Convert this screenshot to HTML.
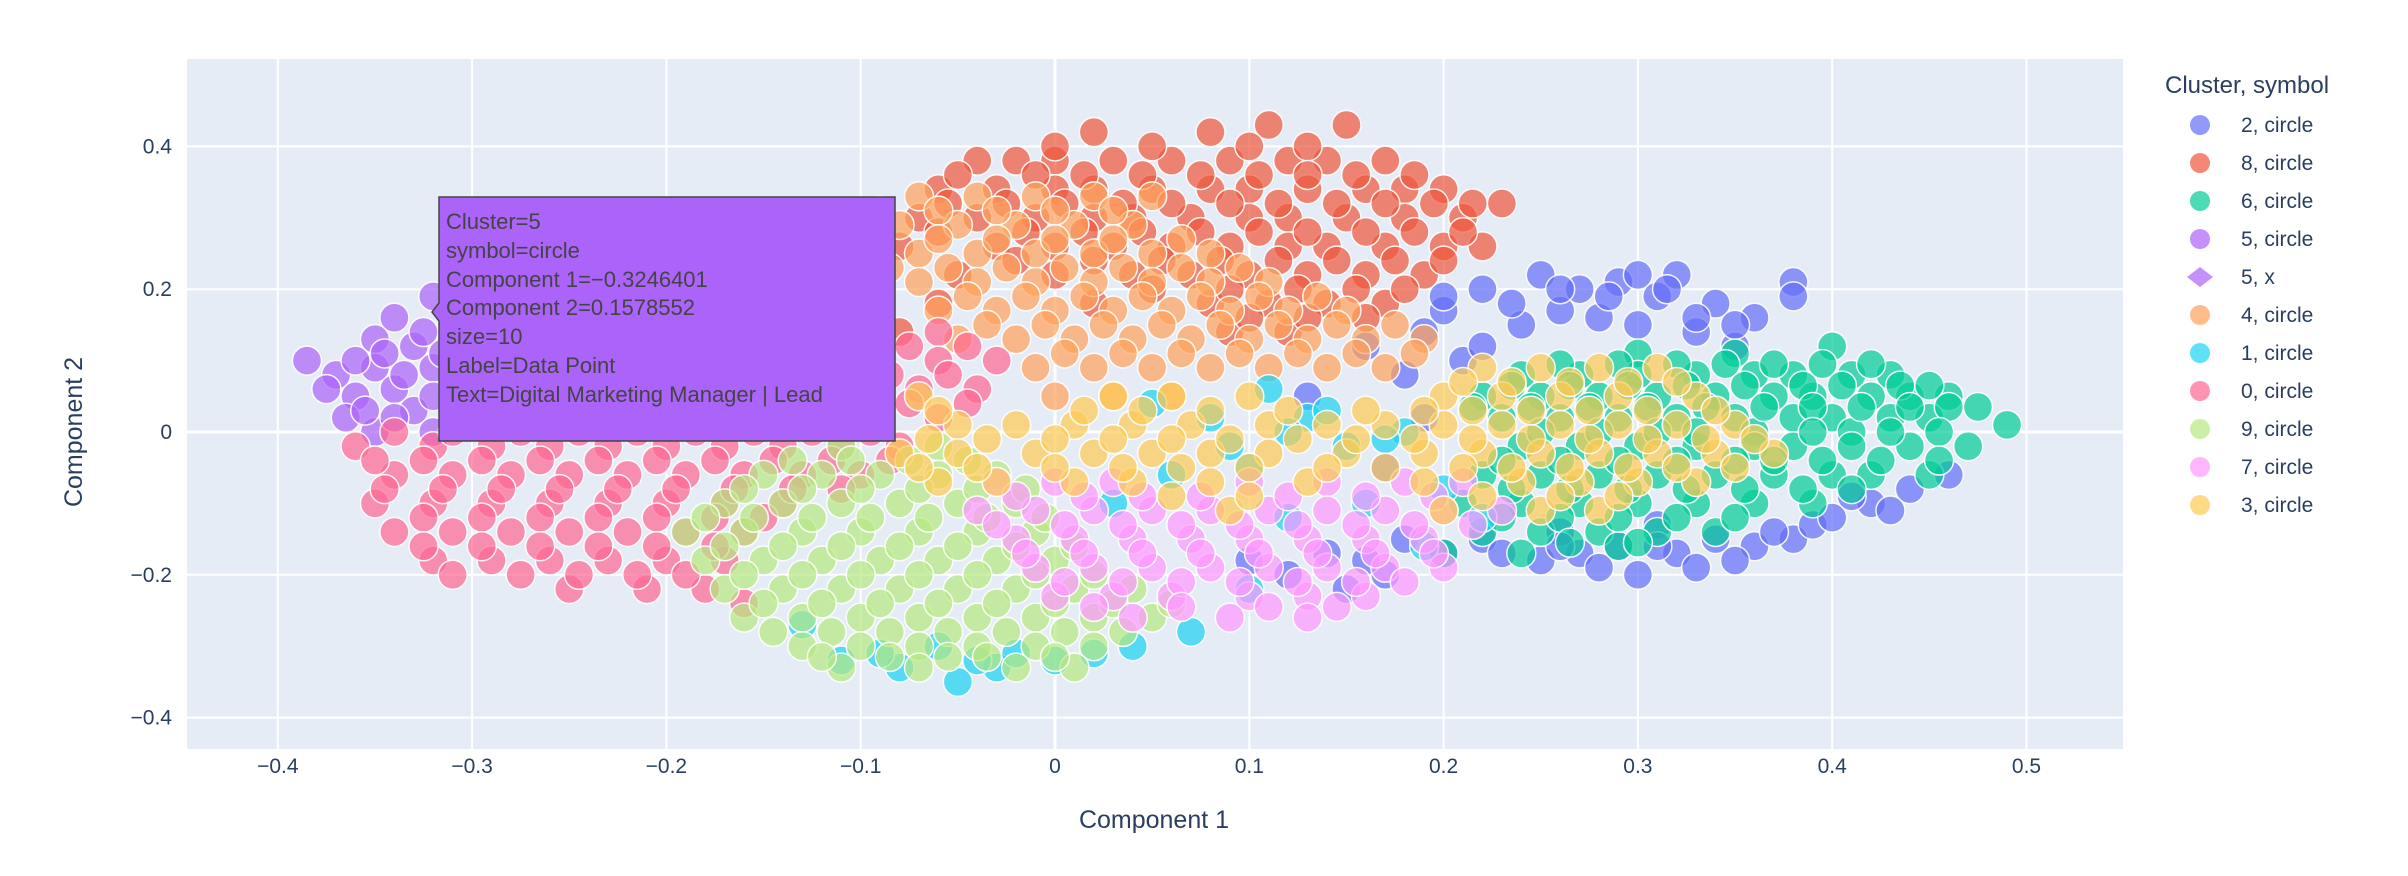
<!DOCTYPE html>
<html><head><meta charset="utf-8"><style>
body{margin:0;background:#fff;}
svg{display:block;font-family:"Liberation Sans",Arial,sans-serif;}
</style></head><body>
<svg id="chart" width="2408" height="876">
<rect x="187" y="59" width="1936" height="690" fill="#e5ecf6"/>
<g id="grid"></g>
<g id="marks"></g>
<g id="axes"></g>
<text x="1154" y="828" font-size="25" fill="#2a3f5f" text-anchor="middle">Component 1</text>
<text x="0" y="0" font-size="25" fill="#2a3f5f" text-anchor="middle" transform="translate(82,432) rotate(-90)">Component 2</text>
<g id="legend">
<text x="2165" y="93" font-size="24" fill="#2a3f5f">Cluster, symbol</text>
</g>
<g>
<path d="M439,197 H895 V441 H439 V321 L432,312 L439,303 Z" fill="#ab63fa" stroke="#444" stroke-width="1.5"/>
<g font-size="22" fill="#444">
<text x="446" y="229">Cluster=5</text>
<text x="446" y="258">symbol=circle</text>
<text x="446" y="287">Component 1=−0.3246401</text>
<text x="446" y="315">Component 2=0.1578552</text>
<text x="446" y="344">size=10</text>
<text x="446" y="373">Label=Data Point</text>
<text x="446" y="402">Text=Digital Marketing Manager | Lead</text>
</g>
</g>
</svg>
<script>
const xTicks = [-0.4,-0.3,-0.2,-0.1,0,0.1,0.2,0.3,0.4,0.5];
const xTickLabels = ["−0.4","−0.3","−0.2","−0.1","0","0.1","0.2","0.3","0.4","0.5"];
const yTicks = [-0.4,-0.2,0,0.2,0.4];
const yTickLabels = ["−0.4","−0.2","0","0.2","0.4"];
const legendLabels = ["2, circle","8, circle","6, circle","5, circle","5, x","4, circle","1, circle","0, circle","9, circle","7, circle","3, circle"];
const legendColors = ["#636efa","#EF553B","#00cc96","#ab63fa","#ab63fa","#FFA15A","#19d3f3","#FF6692","#B6E880","#FF97FF","#FECB52"];

const c2 = [[0.19,0.14],[0.2,0.17],[0.22,0.2],[0.25,0.22],[0.27,0.2],[0.29,0.21],[0.3,0.22],[0.32,0.22],[0.31,0.19],[0.34,0.18],[0.36,0.16],[0.38,0.21],[0.38,0.19],[0.26,0.17],[0.24,0.15],[0.28,0.16],[0.33,0.14],[0.3,0.15],[0.21,0.1],[0.18,0.08],[0.22,0.12],[0.35,0.12],[0.2,-0.17],[0.22,-0.15],[0.25,-0.18],[0.27,-0.17],[0.29,-0.16],[0.3,-0.2],[0.32,-0.17],[0.34,-0.15],[0.36,-0.16],[0.38,-0.15],[0.39,-0.13],[0.4,-0.12],[0.42,-0.1],[0.44,-0.08],[0.46,-0.06],[0.26,-0.14],[0.31,-0.13],[0.12,-0.2],[0.15,-0.22],[0.14,-0.17],[0.17,-0.2],[0.1,-0.18],[0.13,0.05],[0.16,0.12],[0.17,-0.05],[0.19,0.02],
[0.2,0.19],[0.235,0.18],[0.26,0.2],[0.285,0.19],[0.315,0.2],[0.33,0.16],[0.35,0.15],[0.23,-0.17],[0.26,-0.16],[0.28,-0.19],[0.31,-0.16],[0.33,-0.19],[0.35,-0.18],[0.37,-0.14],[0.41,-0.09],[0.43,-0.11],[0.16,-0.18],[0.18,-0.15]];
const c8 = [[0.02,0.42],[0.08,0.42],[0.11,0.43],[0.15,0.43],[-0.04,0.38],[-0.02,0.38],[0,0.38],[0.03,0.38],[0.06,0.38],[0.09,0.38],[0.12,0.38],[0.14,0.38],[0.17,0.38],[-0.06,0.34],[-0.03,0.34],[0,0.34],[0.02,0.34],[0.05,0.34],[0.08,0.34],[0.1,0.34],[0.13,0.34],[0.16,0.34],[0.18,0.34],[0.2,0.34],[-0.07,0.3],[-0.04,0.3],[-0.01,0.3],[0.02,0.3],[0.04,0.3],[0.07,0.3],[0.1,0.3],[0.12,0.3],[0.15,0.3],[0.18,0.3],[0.21,0.3],[0.23,0.32],[-0.08,0.26],[-0.03,0.26],[0,0.26],[0.03,0.26],[0.06,0.26],[0.09,0.26],[0.12,0.26],[0.14,0.26],[0.17,0.26],[0.2,0.26],[0.22,0.26],[-0.05,0.22],[0,0.22],[0.04,0.22],[0.07,0.22],[0.1,0.22],[0.13,0.22],[0.16,0.22],[0.19,0.22],[-0.1,0.18],[-0.06,0.18],[0.02,0.18],[0.08,0.18],[0.11,0.18],[0.14,0.18],[0.17,0.18],[-0.12,0.14],[-0.08,0.14],[0.09,0.14],[0.12,0.14],[-0.1,0.1],[-0.13,0.08],[-0.09,0.05],[-0.12,0.14],
[0,0.4],[0.05,0.4],[0.1,0.4],[0.13,0.4],[-0.05,0.36],[-0.01,0.36],[0.015,0.36],[0.045,0.36],[0.075,0.36],[0.105,0.36],[0.13,0.36],[0.155,0.36],[0.185,0.36],[-0.055,0.32],[-0.025,0.32],[0.005,0.32],[0.035,0.32],[0.06,0.32],[0.09,0.32],[0.115,0.32],[0.145,0.32],[0.17,0.32],[0.195,0.32],[0.215,0.32],[-0.06,0.28],[-0.015,0.28],[0.015,0.28],[0.045,0.28],[0.075,0.28],[0.105,0.28],[0.13,0.28],[0.16,0.28],[0.185,0.28],[0.21,0.28],[-0.02,0.24],[0.02,0.24],[0.055,0.24],[0.085,0.24],[0.115,0.24],[0.145,0.24],[0.175,0.24],[0.2,0.24],[0.05,0.2],[0.09,0.2],[0.125,0.2],[0.155,0.2],[0.18,0.2],[0.1,0.16],[0.13,0.16],[0.16,0.16]];
const c6 = [[0.3,0.11],[0.35,0.11],[0.4,0.12],[0.24,0.08],[0.27,0.08],[0.3,0.08],[0.33,0.08],[0.36,0.08],[0.38,0.08],[0.41,0.08],[0.43,0.08],[0.22,0.05],[0.25,0.05],[0.28,0.05],[0.31,0.05],[0.34,0.05],[0.37,0.05],[0.39,0.05],[0.42,0.05],[0.44,0.05],[0.46,0.05],[0.23,0.02],[0.26,0.02],[0.29,0.02],[0.32,0.02],[0.35,0.02],[0.38,0.02],[0.4,0.02],[0.43,0.02],[0.45,0.02],[0.36,0],[0.41,0],[0.49,0.01],[0.24,-0.02],[0.27,-0.02],[0.3,-0.02],[0.33,-0.02],[0.36,-0.02],[0.38,-0.02],[0.41,-0.02],[0.44,-0.02],[0.47,-0.02],[0.22,-0.06],[0.25,-0.06],[0.28,-0.06],[0.31,-0.06],[0.34,-0.06],[0.37,-0.06],[0.4,-0.06],[0.42,-0.06],[0.45,-0.06],[0.21,-0.1],[0.24,-0.1],[0.27,-0.1],[0.3,-0.1],[0.33,-0.1],[0.36,-0.1],[0.39,-0.1],[0.22,-0.14],[0.25,-0.14],[0.28,-0.14],[0.31,-0.14],[0.34,-0.14],[0.2,-0.17],[0.24,-0.17],[0.29,-0.16],
[0.26,0.095],[0.29,0.095],[0.32,0.095],[0.345,0.095],[0.37,0.095],[0.395,0.095],[0.42,0.095],[0.235,0.065],[0.265,0.065],[0.295,0.065],[0.325,0.065],[0.355,0.065],[0.385,0.065],[0.405,0.065],[0.435,0.065],[0.45,0.065],[0.215,0.035],[0.245,0.035],[0.275,0.035],[0.305,0.035],[0.335,0.035],[0.365,0.035],[0.39,0.035],[0.415,0.035],[0.44,0.035],[0.46,0.035],[0.475,0.035],[0.25,0],[0.28,0],[0.31,0],[0.33,0],[0.39,0],[0.43,0],[0.455,0],[0.23,-0.04],[0.26,-0.04],[0.29,-0.04],[0.32,-0.04],[0.35,-0.04],[0.37,-0.04],[0.395,-0.04],[0.425,-0.04],[0.455,-0.04],[0.235,-0.08],[0.265,-0.08],[0.295,-0.08],[0.325,-0.08],[0.355,-0.08],[0.385,-0.08],[0.41,-0.08],[0.23,-0.12],[0.26,-0.12],[0.29,-0.12],[0.32,-0.12],[0.35,-0.12],[0.265,-0.155],[0.3,-0.155]];
const c5 = [[-0.385,0.1],[-0.37,0.08],[-0.36,0.05],[-0.365,0.02],[-0.35,0.13],[-0.35,0.09],[-0.34,0.06],[-0.34,0.16],[-0.33,0.12],[-0.33,0.03],[-0.32,0.19],[-0.32,0.09],[-0.31,0.15],[-0.31,0.06],[-0.3,0.12],[-0.3,0.02],[-0.29,0.18],[-0.29,0.09],[-0.28,0.14],[-0.28,0.05],[-0.27,0.11],[-0.26,0.07],[-0.26,0.16],[-0.25,0.12],[-0.35,0],[-0.32,0],[-0.36,0.1],[-0.3,0.16],
[-0.375,0.06],[-0.355,0.03],[-0.345,0.11],[-0.325,0.14],[-0.315,0.11],[-0.305,0.08],[-0.295,0.14],[-0.285,0.11],[-0.275,0.08],[-0.335,0.08],[-0.32,0.05],[-0.31,0.17],[-0.27,0.15],[-0.34,0.02]];
const c4 = [[-0.07,0.33],[-0.04,0.33],[-0.01,0.33],[0.02,0.33],[0.05,0.33],[-0.11,0.29],[-0.08,0.29],[-0.05,0.29],[-0.02,0.29],[0.01,0.29],[0.04,0.29],[-0.13,0.25],[-0.1,0.25],[-0.07,0.25],[-0.04,0.25],[-0.01,0.25],[0.02,0.25],[0.05,0.25],[0.08,0.25],[-0.16,0.21],[-0.13,0.21],[-0.1,0.21],[-0.07,0.21],[-0.04,0.21],[-0.01,0.21],[0.02,0.21],[0.05,0.21],[0.08,0.21],[0.11,0.21],[-0.18,0.17],[-0.15,0.17],[-0.06,0.17],[-0.03,0.17],[0,0.17],[0.03,0.17],[0.06,0.17],[0.09,0.17],[0.12,0.17],[0.15,0.17],[-0.05,0.13],[-0.02,0.13],[0.01,0.13],[0.04,0.13],[0.07,0.13],[0.1,0.13],[0.13,0.13],[0.16,0.13],[0.19,0.13],[-0.01,0.09],[0.02,0.09],[0.05,0.09],[0.08,0.09],[0.11,0.09],[0.14,0.09],[0.17,0.09],[0,0.05],[0.03,0.05],[0.06,0.05],
[-0.09,0.31],[-0.06,0.31],[-0.03,0.31],[0,0.31],[0.03,0.31],[-0.12,0.27],[-0.09,0.27],[-0.06,0.27],[-0.03,0.27],[0,0.27],[0.03,0.27],[0.065,0.27],[-0.145,0.23],[-0.115,0.23],[-0.085,0.23],[-0.055,0.23],[-0.025,0.23],[0.005,0.23],[0.035,0.23],[0.065,0.23],[0.095,0.23],[-0.17,0.19],[-0.14,0.19],[-0.11,0.19],[-0.045,0.19],[-0.015,0.19],[0.015,0.19],[0.045,0.19],[0.075,0.19],[0.105,0.19],[0.135,0.19],[-0.035,0.15],[-0.005,0.15],[0.025,0.15],[0.055,0.15],[0.085,0.15],[0.115,0.15],[0.145,0.15],[0.175,0.15],[0.005,0.11],[0.035,0.11],[0.065,0.11],[0.095,0.11],[0.125,0.11],[0.155,0.11],[0.185,0.11]];
const c1 = [[-0.11,-0.32],[-0.08,-0.33],[-0.05,-0.35],[-0.03,-0.33],[-0.06,-0.3],[0,-0.32],[0.04,-0.3],[0.07,-0.28],[0.1,-0.22],[0.12,-0.12],[0.1,-0.05],[0.08,0.02],[0.13,0.02],[0.15,-0.02],[0.18,0],[0.2,-0.08],[0.16,-0.1],[0.06,-0.06],[0.03,-0.1],[0.05,0.04],[0.11,0.06],[0.22,-0.12],[-0.13,-0.27],[0.19,-0.16],
[-0.09,-0.31],[-0.04,-0.32],[-0.02,-0.31],[0.02,-0.31],[0.12,0],[0.14,0.03],[0.17,-0.01],[0.09,-0.02]];
const c0 = [[-0.12,0.14],[-0.09,0.14],[-0.06,0.14],[-0.15,0.1],[-0.12,0.1],[-0.09,0.1],[-0.06,0.1],[-0.03,0.1],[-0.27,0.06],[-0.22,0.06],[-0.19,0.06],[-0.16,0.06],[-0.13,0.06],[-0.1,0.06],[-0.07,0.06],[-0.04,0.06],[-0.3,0.02],[-0.27,0.02],[-0.24,0.02],[-0.21,0.02],[-0.18,0.02],[-0.15,0.02],[-0.12,0.02],[-0.09,0.02],[-0.06,0.02],[-0.36,-0.02],[-0.32,-0.02],[-0.29,-0.02],[-0.26,-0.02],[-0.23,-0.02],[-0.2,-0.02],[-0.17,-0.02],[-0.14,-0.02],[-0.11,-0.02],[-0.08,-0.02],[-0.34,-0.06],[-0.31,-0.06],[-0.28,-0.06],[-0.25,-0.06],[-0.22,-0.06],[-0.19,-0.06],[-0.16,-0.06],[-0.13,-0.06],[-0.1,-0.06],[-0.35,-0.1],[-0.32,-0.1],[-0.29,-0.1],[-0.26,-0.1],[-0.23,-0.1],[-0.2,-0.1],[-0.17,-0.1],[-0.14,-0.1],[-0.34,-0.14],[-0.31,-0.14],[-0.28,-0.14],[-0.25,-0.14],[-0.22,-0.14],[-0.19,-0.14],[-0.16,-0.14],[-0.32,-0.18],[-0.29,-0.18],[-0.26,-0.18],[-0.23,-0.18],[-0.2,-0.18],[-0.17,-0.18],[-0.25,-0.22],[-0.21,-0.22],[-0.18,-0.22],[-0.16,-0.24],
[-0.135,0.12],[-0.105,0.12],[-0.075,0.12],[-0.045,0.12],[-0.25,0.08],[-0.205,0.08],[-0.175,0.08],[-0.145,0.08],[-0.115,0.08],[-0.085,0.08],[-0.055,0.08],[-0.285,0.04],[-0.255,0.04],[-0.225,0.04],[-0.195,0.04],[-0.165,0.04],[-0.135,0.04],[-0.105,0.04],[-0.075,0.04],[-0.045,0.04],[-0.34,0],[-0.31,0],[-0.275,0],[-0.245,0],[-0.215,0],[-0.185,0],[-0.155,0],[-0.125,0],[-0.095,0],[-0.35,-0.04],[-0.325,-0.04],[-0.295,-0.04],[-0.265,-0.04],[-0.235,-0.04],[-0.205,-0.04],[-0.175,-0.04],[-0.145,-0.04],[-0.115,-0.04],[-0.085,-0.04],[-0.345,-0.08],[-0.315,-0.08],[-0.285,-0.08],[-0.255,-0.08],[-0.225,-0.08],[-0.195,-0.08],[-0.165,-0.08],[-0.135,-0.08],[-0.11,-0.08],[-0.325,-0.12],[-0.295,-0.12],[-0.265,-0.12],[-0.235,-0.12],[-0.205,-0.12],[-0.175,-0.12],[-0.15,-0.12],[-0.325,-0.16],[-0.295,-0.16],[-0.265,-0.16],[-0.235,-0.16],[-0.205,-0.16],[-0.175,-0.16],[-0.31,-0.2],[-0.275,-0.2],[-0.245,-0.2],[-0.215,-0.2],[-0.19,-0.2]];
const c9 = [[-0.11,-0.02],[-0.06,-0.02],[-0.15,-0.06],[-0.12,-0.06],[-0.09,-0.06],[-0.06,-0.06],[-0.03,-0.06],[-0.17,-0.1],[-0.14,-0.1],[-0.11,-0.1],[-0.08,-0.1],[-0.05,-0.1],[-0.02,-0.1],[-0.19,-0.14],[-0.16,-0.14],[-0.13,-0.14],[-0.1,-0.14],[-0.07,-0.14],[-0.04,-0.14],[-0.01,-0.14],[-0.18,-0.18],[-0.15,-0.18],[-0.12,-0.18],[-0.09,-0.18],[-0.06,-0.18],[-0.03,-0.18],[0,-0.18],[-0.17,-0.22],[-0.14,-0.22],[-0.11,-0.22],[-0.08,-0.22],[-0.05,-0.22],[-0.02,-0.22],[0.01,-0.22],[0.04,-0.22],[-0.16,-0.26],[-0.13,-0.26],[-0.1,-0.26],[-0.07,-0.26],[-0.04,-0.26],[-0.01,-0.26],[0.02,-0.26],[0.05,-0.26],[-0.13,-0.3],[-0.1,-0.3],[-0.07,-0.3],[-0.04,-0.3],[-0.01,-0.3],[0.02,-0.3],[-0.11,-0.33],[-0.07,-0.33],[-0.02,-0.33],[0.01,-0.33],
[-0.135,-0.04],[-0.105,-0.04],[-0.075,-0.04],[-0.045,-0.04],[-0.16,-0.08],[-0.13,-0.08],[-0.1,-0.08],[-0.07,-0.08],[-0.04,-0.08],[-0.015,-0.08],[-0.18,-0.12],[-0.155,-0.12],[-0.125,-0.12],[-0.095,-0.12],[-0.065,-0.12],[-0.035,-0.12],[-0.005,-0.12],[-0.17,-0.16],[-0.14,-0.16],[-0.11,-0.16],[-0.08,-0.16],[-0.05,-0.16],[-0.02,-0.16],[0.01,-0.16],[-0.16,-0.2],[-0.13,-0.2],[-0.1,-0.2],[-0.07,-0.2],[-0.04,-0.2],[-0.01,-0.2],[0.02,-0.2],[-0.15,-0.24],[-0.12,-0.24],[-0.09,-0.24],[-0.06,-0.24],[-0.03,-0.24],[0,-0.24],[0.03,-0.24],[0.06,-0.24],[-0.145,-0.28],[-0.115,-0.28],[-0.085,-0.28],[-0.055,-0.28],[-0.025,-0.28],[0.005,-0.28],[0.035,-0.28],[-0.12,-0.315],[-0.085,-0.315],[-0.055,-0.315],[-0.035,-0.315],[0,-0.315]];
const c7 = [[-0.03,-0.07],[0,-0.07],[0.03,-0.07],[0.1,-0.07],[0.14,-0.07],[0.18,-0.07],[0.21,-0.07],[-0.04,-0.11],[-0.01,-0.11],[0.02,-0.11],[0.05,-0.11],[0.08,-0.11],[0.11,-0.11],[0.14,-0.11],[0.17,-0.11],[0.2,-0.11],[0.23,-0.11],[-0.02,-0.15],[0.01,-0.15],[0.04,-0.15],[0.07,-0.15],[0.1,-0.15],[0.13,-0.15],[0.16,-0.15],[0.19,-0.15],[-0.01,-0.19],[0.02,-0.19],[0.05,-0.19],[0.08,-0.19],[0.11,-0.19],[0.14,-0.19],[0.17,-0.19],[0.2,-0.19],[0,-0.23],[0.03,-0.23],[0.06,-0.23],[0.1,-0.23],[0.13,-0.23],[0.16,-0.23],[0.04,-0.26],[0.09,-0.26],[0.13,-0.26],
[-0.02,-0.09],[0.015,-0.09],[0.045,-0.09],[0.075,-0.09],[0.12,-0.09],[0.16,-0.09],[0.195,-0.09],[-0.03,-0.13],[0.005,-0.13],[0.035,-0.13],[0.065,-0.13],[0.095,-0.13],[0.125,-0.13],[0.155,-0.13],[0.185,-0.13],[0.215,-0.13],[-0.015,-0.17],[0.015,-0.17],[0.045,-0.17],[0.075,-0.17],[0.105,-0.17],[0.135,-0.17],[0.165,-0.17],[0.195,-0.17],[0.005,-0.21],[0.035,-0.21],[0.065,-0.21],[0.095,-0.21],[0.125,-0.21],[0.155,-0.21],[0.18,-0.21],[0.02,-0.245],[0.065,-0.245],[0.11,-0.245],[0.145,-0.245]];
const c3 = [[0.22,0.09],[0.25,0.09],[0.28,0.09],[0.31,0.09],[-0.07,0.05],[0.03,0.05],[0.06,0.05],[0.1,0.05],[0.2,0.05],[0.23,0.05],[0.26,0.05],[0.29,0.05],[0.33,0.05],[-0.05,0.01],[-0.02,0.01],[0.01,0.01],[0.04,0.01],[0.07,0.01],[0.11,0.01],[0.14,0.01],[0.17,0.01],[0.2,0.01],[0.23,0.01],[0.26,0.01],[0.29,0.01],[0.32,0.01],[0.35,0.01],[-0.08,-0.03],[-0.05,-0.03],[-0.01,-0.03],[0.02,-0.03],[0.05,-0.03],[0.08,-0.03],[0.11,-0.03],[0.15,-0.03],[0.19,-0.03],[0.22,-0.03],[0.25,-0.03],[0.28,-0.03],[0.31,-0.03],[0.34,-0.03],[0.37,-0.03],[-0.06,-0.07],[-0.03,-0.07],[0.01,-0.07],[0.04,-0.07],[0.08,-0.07],[0.13,-0.07],[0.19,-0.07],[0.24,-0.07],[0.27,-0.07],[0.3,-0.07],[0.33,-0.07],[0.09,-0.11],[0.2,-0.11],[0.25,-0.11],[0.28,-0.11],
[0.21,0.07],[0.235,0.07],[0.265,0.07],[0.295,0.07],[0.32,0.07],[-0.06,0.03],[0.015,0.03],[0.045,0.03],[0.08,0.03],[0.12,0.03],[0.16,0.03],[0.19,0.03],[0.215,0.03],[0.245,0.03],[0.275,0.03],[0.305,0.03],[0.34,0.03],[-0.065,-0.01],[-0.035,-0.01],[0,-0.01],[0.03,-0.01],[0.06,-0.01],[0.09,-0.01],[0.125,-0.01],[0.155,-0.01],[0.185,-0.01],[0.215,-0.01],[0.245,-0.01],[0.275,-0.01],[0.305,-0.01],[0.335,-0.01],[0.36,-0.01],[-0.07,-0.05],[-0.04,-0.05],[0,-0.05],[0.035,-0.05],[0.065,-0.05],[0.1,-0.05],[0.14,-0.05],[0.17,-0.05],[0.21,-0.05],[0.235,-0.05],[0.265,-0.05],[0.295,-0.05],[0.32,-0.05],[0.35,-0.05],[0.06,-0.09],[0.1,-0.09],[0.22,-0.09],[0.26,-0.09],[0.29,-0.09]];

const NS = "http://www.w3.org/2000/svg";
function X(v){ return 1055 + v*1943; }
function Y(v){ return 432 - v*714; }
function mk(tag, attrs, parent){ const e=document.createElementNS(NS,tag); for(const k in attrs) e.setAttribute(k,attrs[k]); parent.appendChild(e); return e; }

const grid=document.getElementById('grid'), axes=document.getElementById('axes');
xTicks.forEach((t,i)=>{
  const l=mk('line',{x1:X(t),x2:X(t),y1:59,y2:749,stroke:'#fff','stroke-width':t===0?3:2},grid);
  
  
  const tx=mk('text',{x:X(t),y:773,'font-size':21,fill:'#2a3f5f','text-anchor':'middle'},axes);
  tx.textContent=xTickLabels[i];
  
  
});
yTicks.forEach((t,i)=>{
  const l=mk('line',{x1:187,x2:2123,y1:Y(t),y2:Y(t),stroke:'#fff','stroke-width':t===0?3:2},grid);
  
  
  const tx=mk('text',{x:172,y:Y(t)+7,'font-size':21,fill:'#2a3f5f','text-anchor':'end'},axes);
  tx.textContent=yTickLabels[i];
  
  
});

const series=[["cluster-2",c2,"#636efa"],["cluster-8",c8,"#EF553B"],["cluster-6",c6,"#00cc96"],["cluster-5",c5,"#ab63fa"],["cluster-4",c4,"#FFA15A"],["cluster-1",c1,"#19d3f3"],["cluster-0",c0,"#FF6692"],["cluster-9",c9,"#B6E880"],["cluster-7",c7,"#FF97FF"],["cluster-3",c3,"#FECB52"]];
const marks=document.getElementById('marks');
series.forEach(s=>{
  const g=mk('g',{},marks);
  
  
  s[1].forEach(p=>{
    const c=mk('circle',{cx:X(p[0]),cy:Y(p[1]),r:14.5,fill:s[2],'fill-opacity':0.7,stroke:'#fff','stroke-width':1.5,'stroke-opacity':0.9},g);
    
    
  });
});

const leg=document.getElementById('legend');
legendLabels.forEach((lab,i)=>{
  const y=125+i*38;
  const g=mk('g',{},leg);
  
  
  if(lab.indexOf('x')===3){
    mk('path',{d:`M${2200-13},${y} L2200,${y-10} L${2200+13},${y} L2200,${y+10} Z`,fill:legendColors[i],'fill-opacity':0.7},g);
  } else {
    mk('ellipse',{cx:2200,cy:y,rx:10,ry:10,fill:legendColors[i],'fill-opacity':0.7},g);
  }
  const t=mk('text',{x:2241,y:y+7,'font-size':21,fill:'#2a3f5f'},g);
  t.textContent=lab;
});
</script>
</body></html>
